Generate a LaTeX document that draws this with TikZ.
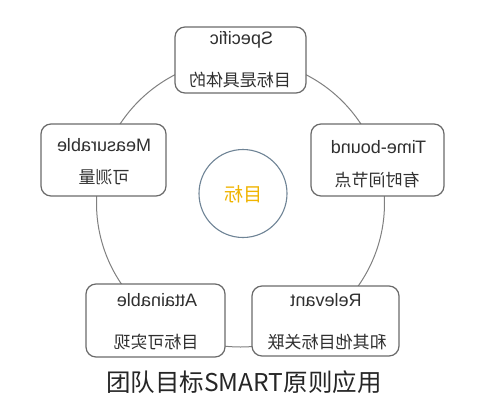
\documentclass[tikz,border=0pt]{standalone}
\usepackage{fontspec}
\setmainfont{Liberation Sans}
\newfontfamily\cjk{Noto Sans CJK SC}
\definecolor{boxline}{HTML}{6A6A6A}
\definecolor{ringc}{HTML}{808080}
\definecolor{hubc}{HTML}{6F8496}
\definecolor{txt}{HTML}{303030}
\definecolor{gold}{HTML}{F0B400}
\begin{document}
\begin{tikzpicture}[x=1pt,y=-1pt,
  card/.style={draw=boxline, line width=1.2pt, rounded corners=10pt, fill=white, inner sep=0pt},
  en/.style={text=txt, font=\fontsize{18}{18}\selectfont, inner sep=0pt},
  zh/.style={text=txt, font=\cjk\fontsize{17}{17}\selectfont, inner sep=0pt}]
\useasboundingbox[fill=white] (0,0) rectangle (483,400);
% ring connecting the cards
\node[draw=ringc, line width=1pt, circle, minimum size=288pt, inner sep=0pt] (ring) at (240.5,203) {};
% cards
\node[card, minimum width=131pt, minimum height=66pt] (S) at (240.5,60) {};
\node[card, minimum width=125pt, minimum height=72pt] (M) at (103.5,160) {};
\node[card, minimum width=133pt, minimum height=72pt] (T) at (377.5,160) {};
\node[card, minimum width=139pt, minimum height=73pt] (A) at (155.5,320.5) {};
\node[card, minimum width=147pt, minimum height=70pt] (R) at (325.5,321) {};
% hub
\node[draw=hubc, line width=1.1pt, circle, minimum size=88pt, inner sep=0pt, fill=white] (hub) at (243,193.5) {};
\node[text=gold, font=\cjk\fontsize{19}{19}\selectfont, inner sep=0pt] (hubt) at (243,194) {\reflectbox{目标}};
% card texts (mirrored as printed)
\node[en] (St) at (241.5,40) {\reflectbox{Specific}};
\node[zh] (Sz) at (240,80) {\reflectbox{目标是具体的}};
\node[en] (Mt) at (104,145) {\reflectbox{Measurable}};
\node[zh] (Mz) at (104,177) {\reflectbox{可测量}};
\node[en] (Tt) at (378.5,147) {\reflectbox{Time-bound}};
\node[zh] (Tz) at (377,180) {\reflectbox{有时间节点}};
\node[en] (At) at (157,300) {\reflectbox{Attainable}};
\node[zh] (Az) at (156,342) {\reflectbox{目标可实现}};
\node[en] (Rt) at (326,300) {\reflectbox{Relevant}};
\node[zh] (Rz) at (327,342) {\reflectbox{和其他目标关联}};
% caption
\node[text=black!85, font=\cjk\fontsize{24.5}{24.5}\selectfont, inner sep=0pt] (cap) at (244,382) {团队目标SMART原则应用};
\end{tikzpicture}
\end{document}
